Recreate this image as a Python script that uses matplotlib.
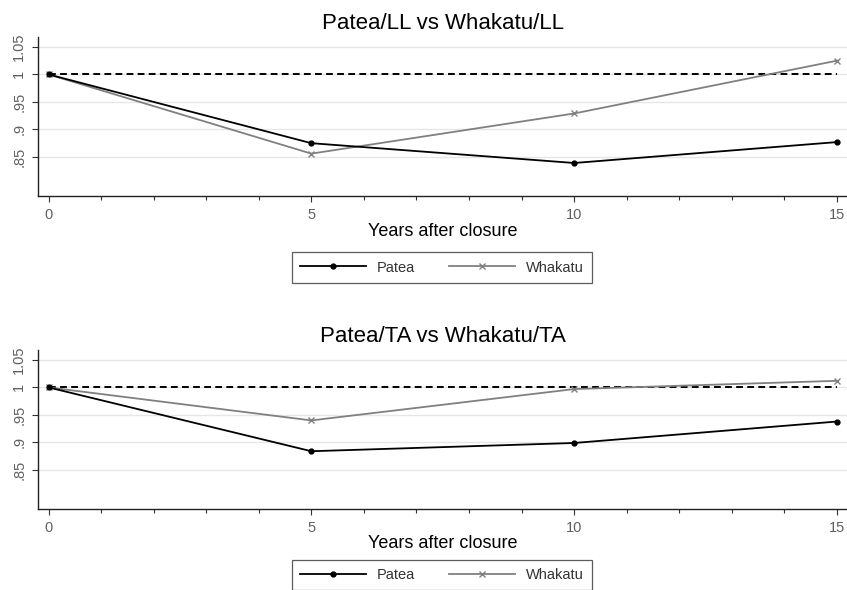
import matplotlib
matplotlib.use("Agg")
import matplotlib.pyplot as plt
from matplotlib.ticker import MultipleLocator

plt.rcParams['font.family'] = ['Liberation Sans', 'DejaVu Sans']

# data
years = [0, 5, 10, 15]
patea_ll = [1.0, 0.875, 0.839, 0.877]
whakatu_ll = [1.0, 0.856, 0.929, 1.025]
patea_ta = [1.0, 0.884, 0.899, 0.938]
whakatu_ta = [1.0, 0.940, 0.997, 1.012]

titles = ["Patea/LL vs Whakatu/LL", "Patea/TA vs Whakatu/TA"]
yticks = [0.85, 0.9, 0.95, 1.0, 1.05]
ytick_labels = [".85", ".9", ".95", "1", "1.05"]
xticks = [0, 5, 10, 15]

W, H = 847, 590
fig = plt.figure(figsize=(W / 100, H / 100), dpi=100)

def panel(top_px, bottom_px, title, patea, whakatu, legend_cy):
    ax = fig.add_axes([38 / W, 1 - bottom_px / H, (W - 38) / W, (bottom_px - top_px) / H])
    ax.set_xlim(-0.2, 15.19)
    ax.set_ylim(0.779, 1.068)
    for y in yticks:
        ax.axhline(y, color='#e6e6e6', lw=1.0, zorder=0)
    ax.plot([0, 15], [1, 1], color='black', lw=1.4, linestyle=(0, (3.5, 2.2)), zorder=2)
    lp, = ax.plot(years, patea, color='black', lw=1.3, marker='o', markersize=3.5, label='Patea', zorder=4)
    lw_, = ax.plot(years, whakatu, color='#808080', lw=1.3, marker='x', markersize=4,
                   markeredgewidth=1.0, label='Whakatu', zorder=3)

    ax.set_xticks(xticks)
    ax.xaxis.set_minor_locator(MultipleLocator(1))
    ax.set_yticks(yticks)
    ax.set_yticklabels(ytick_labels, rotation=90, va='center')
    ax.tick_params(axis='both', which='major', length=4.5, width=0.8, color='#333333',
                   labelcolor='#606060', labelsize=10.5, pad=4)
    ax.tick_params(axis='x', which='minor', length=3, width=0.8, color='#333333')
    for s in ['top', 'right']:
        ax.spines[s].set_visible(False)
    for s in ['left', 'bottom']:
        ax.spines[s].set_linewidth(1.0)
        ax.spines[s].set_color('#222222')

    ax.set_title(title, fontsize=16, pad=6)
    ax.set_xlabel("Years after closure", fontsize=13, labelpad=0.5)

    leg = fig.legend(handles=[lp, lw_], loc='center', bbox_to_anchor=(442 / W, 1 - legend_cy / H),
                     ncol=2, fontsize=10.5, handlelength=4.5, handletextpad=0.8, columnspacing=2.3,
                     frameon=True, fancybox=False, borderpad=0.55, edgecolor='#333333')
    leg.get_frame().set_linewidth(0.9)
    for t in leg.get_texts():
        t.set_color('#333333')
    return ax

panel(37, 196, titles[0], patea_ll, whakatu_ll, 267.5)
panel(350, 509, titles[1], patea_ta, whakatu_ta, 575)

fig.savefig("out.png", dpi=100)
